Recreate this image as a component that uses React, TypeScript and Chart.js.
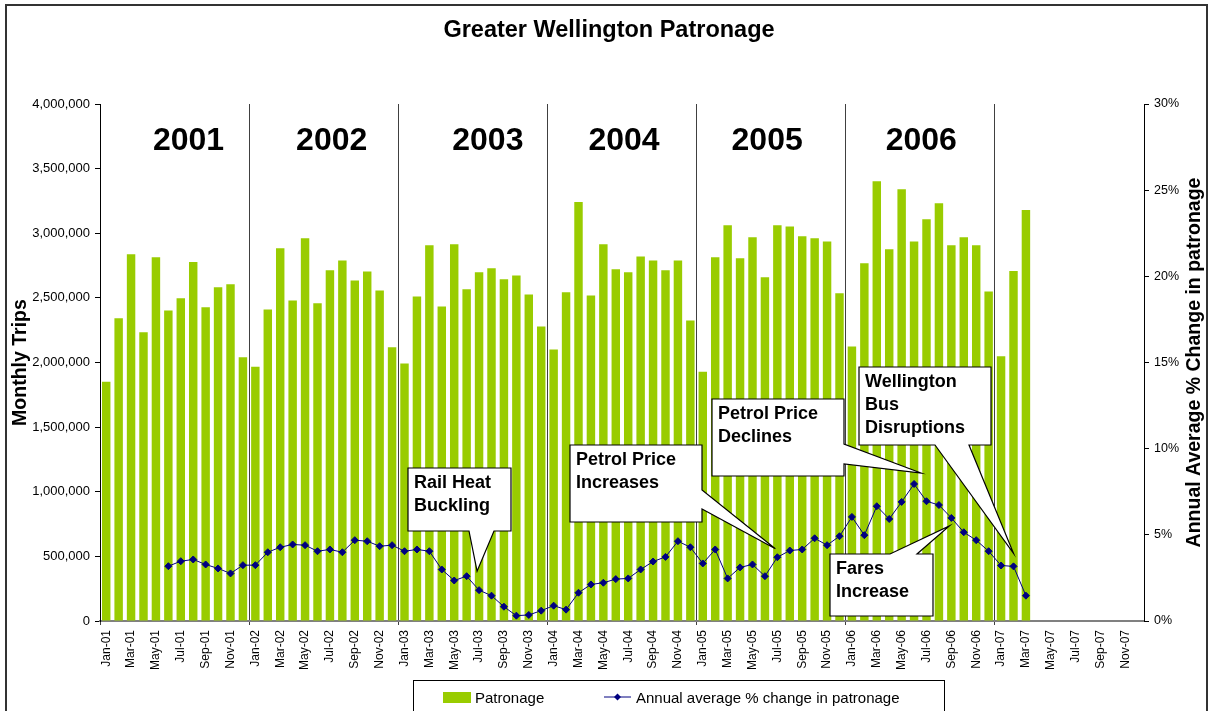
import React, { useEffect, useRef } from "react";
import { Chart, registerables } from "chart.js";

Chart.register(...registerables);

// ---------- DATA ----------
const categories: string[] = [
  "Jan-01", "Feb-01", "Mar-01", "Apr-01", "May-01", "Jun-01", "Jul-01", "Aug-01", "Sep-01", "Oct-01", "Nov-01", "Dec-01",
  "Jan-02", "Feb-02", "Mar-02", "Apr-02", "May-02", "Jun-02", "Jul-02", "Aug-02", "Sep-02", "Oct-02", "Nov-02", "Dec-02",
  "Jan-03", "Feb-03", "Mar-03", "Apr-03", "May-03", "Jun-03", "Jul-03", "Aug-03", "Sep-03", "Oct-03", "Nov-03", "Dec-03",
  "Jan-04", "Feb-04", "Mar-04", "Apr-04", "May-04", "Jun-04", "Jul-04", "Aug-04", "Sep-04", "Oct-04", "Nov-04", "Dec-04",
  "Jan-05", "Feb-05", "Mar-05", "Apr-05", "May-05", "Jun-05", "Jul-05", "Aug-05", "Sep-05", "Oct-05", "Nov-05", "Dec-05",
  "Jan-06", "Feb-06", "Mar-06", "Apr-06", "May-06", "Jun-06", "Jul-06", "Aug-06", "Sep-06", "Oct-06", "Nov-06", "Dec-06",
  "Jan-07", "Feb-07", "Mar-07", "Apr-07", "May-07", "Jun-07", "Jul-07", "Aug-07", "Sep-07", "Oct-07", "Nov-07", "Dec-07",
];

const patronage: (number | null)[] = [
  1852000, 2342000, 2837000, 2234000, 2815000, 2403000, 2497000, 2777000, 2428000, 2583000, 2605000, 2040000,
  1968000, 2411000, 2884000, 2480000, 2962000, 2458000, 2713000, 2790000, 2635000, 2704000, 2558000, 2118000,
  1993000, 2511000, 2907000, 2433000, 2915000, 2566000, 2699000, 2729000, 2644000, 2674000, 2527000, 2278000,
  2101000, 2544000, 3242000, 2519000, 2915000, 2721000, 2699000, 2821000, 2790000, 2713000, 2790000, 2325000,
  1929000, 2815000, 3062000, 2807000, 2970000, 2660000, 3062000, 3053000, 2976000, 2962000, 2937000, 2536000,
  2123000, 2768000, 3402000, 2876000, 3341000, 2937000, 3109000, 3233000, 2907000, 2970000, 2907000, 2549000,
  2048000, 2707000, 3179000, null, null, null, null, null, null, null, null, null,
];

const annualChange: (number | null)[] = [
  null, null, null, null, null, 3.18, 3.47, 3.57, 3.28, 3.05, 2.76, 3.24,
  3.24, 3.99, 4.28, 4.44, 4.40, 4.05, 4.15, 3.99, 4.69, 4.63, 4.34, 4.40,
  4.05, 4.15, 4.05, 2.99, 2.35, 2.60, 1.79, 1.47, 0.83, 0.31, 0.35, 0.60,
  0.89, 0.66, 1.64, 2.12, 2.22, 2.43, 2.47, 2.99, 3.45, 3.72, 4.63, 4.28,
  3.34, 4.15, 2.47, 3.11, 3.28, 2.60, 3.70, 4.09, 4.15, 4.80, 4.40, 4.92,
  6.04, 4.98, 6.66, 5.92, 6.91, 7.95, 6.95, 6.73, 5.98, 5.15, 4.69, 4.05,
  3.22, 3.17, 1.47, null, null, null, null, null, null, null, null, null,
];

const yearLabels: string[] = ["2001", "2002", "2003", "2004", "2005", "2006"];

const calloutTexts: string[][] = [
  ["Rail Heat", "Buckling"],
  ["Petrol Price", "Increases"],
  ["Petrol Price", "Declines"],
  ["Wellington", "Bus", "Disruptions"],
  ["Fares", "Increase"],
];
const calloutTargets: string[] = ["Jul-03", "Jul-05", "Jun-06", "Feb-07", "Sep-06"];

const titleText = "Greater Wellington Patronage";
const leftAxisTitle = "Monthly Trips";
const rightAxisTitle = "Annual Average % Change in patronage";
const barLabel = "Patronage";
const lineLabel = "Annual average % change in patronage";

// ---------- LAYOUT / STYLE ----------
const FONT = 'Arial, "Liberation Sans", Helvetica, sans-serif';
const BAR_COLOR = "#99CC00";
const LINE_COLOR = "#000080";

const yearLabelOffsets = [14, 8, 15, 2, -4, 1];

type Callout = { box: [number, number, number, number]; edge: "bottom" | "right" | "top"; base: [number, number]; tip: [number, number] };
const calloutLayout: Callout[] = [
  { box: [408, 468, 103, 63], edge: "bottom", base: [469, 494], tip: [-2, -19] },
  { box: [570, 445, 132, 77], edge: "right", base: [490, 509], tip: [-2, -8.5] },
  { box: [712, 399, 132, 77], edge: "right", base: [444, 464], tip: [7, -11] },
  { box: [859, 367, 132, 78], edge: "bottom", base: [935, 969], tip: [0, -13] },
  { box: [830, 554, 103, 62], edge: "top", base: [890, 917], tip: [-2, 8] },
];

const decorPlugin = {
  id: "decor",
  afterDraw(chart: any) {
    const ctx: CanvasRenderingContext2D = chart.ctx;
    const area = chart.chartArea;
    const xs = chart.scales.x;
    const y1 = chart.scales.y1;
    ctx.save();

    // outer frame
    ctx.strokeStyle = "#333";
    ctx.lineWidth = 2;
    ctx.strokeRect(6, 5, 1201, 730);

    // title
    ctx.fillStyle = "#000";
    ctx.font = `bold 23.5px ${FONT}`;
    ctx.textAlign = "center";
    ctx.textBaseline = "alphabetic";
    ctx.fillText(titleText, 609, 37);

    // axis titles
    ctx.font = `bold 19.5px ${FONT}`;
    ctx.save();
    ctx.translate(26, (area.top + area.bottom) / 2);
    ctx.rotate(-Math.PI / 2);
    ctx.fillText(leftAxisTitle, 0, 0);
    ctx.restore();
    ctx.save();
    ctx.translate(1200, (area.top + area.bottom) / 2);
    ctx.rotate(-Math.PI / 2);
    ctx.fillText(rightAxisTitle, 0, 0);
    ctx.restore();

    // year labels
    ctx.font = `bold 32px ${FONT}`;
    yearLabels.forEach((yl, i) => {
      const a = xs.getPixelForValue(i * 12 + 5);
      const b = xs.getPixelForValue(i * 12 + 6);
      const cx = (a + b) / 2 + yearLabelOffsets[i];
      ctx.fillText(yl, cx, 150);
    });

    // callouts
    calloutLayout.forEach((c, i) => {
      const idx = categories.indexOf(calloutTargets[i]);
      const px = xs.getPixelForValue(idx);
      const py = y1.getPixelForValue(annualChange[idx] as number);
      const tx = px + c.tip[0];
      const ty = py + c.tip[1];
      const [l, t, w, h] = c.box;
      const r = l + w;
      const b = t + h;
      ctx.beginPath();
      if (c.edge === "bottom") {
        ctx.moveTo(l, t); ctx.lineTo(r, t); ctx.lineTo(r, b);
        ctx.lineTo(c.base[1], b); ctx.lineTo(tx, ty); ctx.lineTo(c.base[0], b);
        ctx.lineTo(l, b);
      } else if (c.edge === "right") {
        ctx.moveTo(l, t); ctx.lineTo(r, t); ctx.lineTo(r, c.base[0]);
        ctx.lineTo(tx, ty); ctx.lineTo(r, c.base[1]); ctx.lineTo(r, b);
        ctx.lineTo(l, b);
      } else {
        ctx.moveTo(l, t); ctx.lineTo(c.base[0], t); ctx.lineTo(tx, ty);
        ctx.lineTo(c.base[1], t); ctx.lineTo(r, t); ctx.lineTo(r, b);
        ctx.lineTo(l, b);
      }
      ctx.closePath();
      ctx.fillStyle = "#fff";
      ctx.fill();
      ctx.strokeStyle = "#000";
      ctx.lineWidth = 1.2;
      ctx.stroke();
      ctx.fillStyle = "#000";
      ctx.font = `bold 18px ${FONT}`;
      ctx.textAlign = "left";
      calloutTexts[i].forEach((line, j) => {
        ctx.fillText(line, l + 6, t + 20 + j * 23);
      });
    });

    // legend
    ctx.strokeStyle = "#000";
    ctx.lineWidth = 1;
    ctx.fillStyle = "#fff";
    ctx.fillRect(413.5, 680.5, 531, 40);
    ctx.strokeRect(413.5, 680.5, 531, 40);
    ctx.fillStyle = BAR_COLOR;
    ctx.fillRect(443, 692, 28, 11);
    ctx.fillStyle = "#000";
    ctx.font = `15px ${FONT}`;
    ctx.textAlign = "left";
    ctx.fillText(barLabel, 475, 703);
    ctx.strokeStyle = LINE_COLOR;
    ctx.beginPath();
    ctx.moveTo(604, 697);
    ctx.lineTo(631, 697);
    ctx.stroke();
    ctx.fillStyle = LINE_COLOR;
    ctx.beginPath();
    ctx.moveTo(617.5 - 3.5, 697);
    ctx.lineTo(617.5, 697 - 3.5);
    ctx.lineTo(617.5 + 3.5, 697);
    ctx.lineTo(617.5, 697 + 3.5);
    ctx.closePath();
    ctx.fill();
    ctx.fillStyle = "#000";
    ctx.fillText(lineLabel, 636, 703);

    ctx.restore();
  },
};

export default function App() {
  const canvasRef = useRef<HTMLCanvasElement>(null);

  useEffect(() => {
    if (!canvasRef.current) return;
    const chart = new Chart(canvasRef.current, {
      type: "bar",
      data: {
        labels: categories,
        datasets: [
          {
            type: "bar",
            label: barLabel,
            data: patronage,
            backgroundColor: BAR_COLOR,
            yAxisID: "y",
            barPercentage: 0.68,
            categoryPercentage: 1,
            order: 2,
          } as any,
          {
            type: "line",
            label: lineLabel,
            data: annualChange,
            yAxisID: "y1",
            borderColor: LINE_COLOR,
            borderWidth: 1,
            pointStyle: "rectRot",
            pointRadius: 3.5,
            pointBackgroundColor: LINE_COLOR,
            pointBorderColor: LINE_COLOR,
            pointBorderWidth: 1,
            tension: 0,
            spanGaps: false,
            order: 1,
          } as any,
        ],
      },
      options: {
        responsive: false,
        animation: false,
        events: [],
        layout: { padding: { top: 104, left: 0, right: 0, bottom: 0 } },
        plugins: {
          legend: { display: false },
          title: { display: false },
          tooltip: { enabled: false },
        },
        scales: {
          x: {
            offset: true,
            grid: {
              offset: true,
              drawOnChartArea: true,
              drawTicks: true,
              tickLength: 4,
              lineWidth: 1,
              color: (c: any) => (typeof c.index === "number" && c.index % 12 === 0 ? "#404040" : "rgba(0,0,0,0)"),
              tickColor: (c: any) => (typeof c.index === "number" && c.index % 12 === 0 ? "#404040" : "rgba(0,0,0,0)"),
            },
            border: { display: true, color: "#808080", width: 2 },
            ticks: {
              autoSkip: false,
              maxRotation: 90,
              minRotation: 90,
              padding: 5,
              color: "#000",
              font: { family: FONT, size: 12 },
              callback: (_v: any, i: number) => (i % 2 === 0 ? categories[i] : ""),
            },
            afterFit: (s: any) => {
              s.height = 90;
            },
          },
          y: {
            position: "left",
            min: 0,
            max: 4000000,
            grid: { drawOnChartArea: false, drawTicks: true, tickLength: 5, tickColor: "#000" },
            border: { display: true, color: "#000", width: 1 },
            ticks: {
              stepSize: 500000,
              padding: 5,
              color: "#000",
              font: { family: FONT, size: 13 },
              callback: (v: any) => Number(v).toLocaleString("en-US"),
            },
            afterFit: (s: any) => {
              s.width = 100;
            },
          },
          y1: {
            position: "right",
            min: 0,
            max: 30,
            grid: { drawOnChartArea: false, drawTicks: true, tickLength: 5, tickColor: "#000" },
            border: { display: true, color: "#000", width: 1 },
            ticks: {
              stepSize: 5,
              padding: 5,
              color: "#000",
              font: { family: FONT, size: 12.5 },
              callback: (v: any) => `${v}%`,
            },
            afterFit: (s: any) => {
              s.width = 66;
            },
          },
        },
      } as any,
      plugins: [decorPlugin],
    });
    return () => chart.destroy();
  }, []);

  return (
    <div style={{ position: "fixed", left: 0, top: 0, width: 1210, height: 711, background: "#fff" }}>
      <canvas ref={canvasRef} width={1210} height={711} style={{ display: "block" }} />
    </div>
  );
}
